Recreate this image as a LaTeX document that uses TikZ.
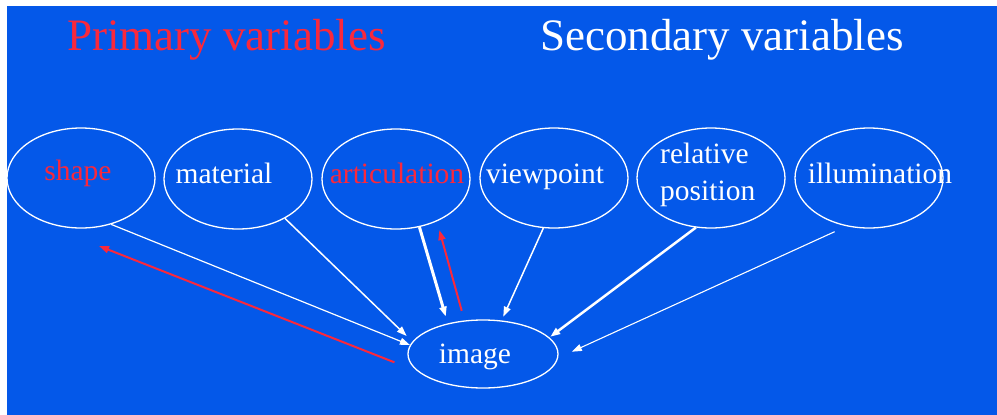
\documentclass[tikz,border=0pt]{standalone}
\usepackage{fontspec}
\setmainfont{Liberation Serif}
\usetikzlibrary{shapes.geometric,arrows.meta}
\definecolor{bgblue}{RGB}{4,88,233}
\definecolor{hot}{RGB}{250,40,60}
\begin{document}
\begin{tikzpicture}[x=1pt,y=-1pt,
  var/.style={ellipse,draw=white,line width=1.3pt,minimum width=148pt,minimum height=100pt,inner sep=0pt},
  lbl/.style={text=white,inner sep=0pt,anchor=base,font=\fontsize{29.5}{37}\selectfont},
  title/.style={inner sep=0pt,anchor=base west,font=\fontsize{45}{50}\selectfont},
  tip/.style={-{Triangle[length=10pt,width=7pt]}},
  wire/.style={tip,draw=white},
  back/.style={tip,draw=hot,line width=2pt}]
\useasboundingbox (0,0) rectangle (997,415);
\fill[white] (0,0) rectangle (997,415);
\fill[bgblue] (7,6) rectangle (997,415);

% headings
\node[title,text=hot] (hPrim) at (67,50) {Primary variables};
\node[title,text=white] (hSec) at (540,50) {Secondary variables};

% variables
\node[var] (vShape) at (81,178) {};
\node[var] (vMat)   at (238,179) {};
\node[var] (vArt)   at (396,179) {};
\node[var] (vView)  at (554,178) {};
\node[var] (vRel)   at (711,178) {};
\node[var] (vIll)   at (869,178) {};
\node[var,minimum width=150pt,minimum height=68pt] (vImg) at (483,354) {};

\node[lbl,text=hot] (tShape) at (78,180) {shape};
\node[lbl] (tMat) at (224,183) {material};
\node[lbl,text=hot] (tArt) at (397,183) {articulation};
\node[lbl] (tView) at (545,183) {viewpoint};
% the base anchor of a two-line node sits on its last line
\node[lbl,anchor=base west,align=left] (tRel) at (660,200) {relative\\position};
\node[lbl] (tIll) at (880,183) {illumination};
\node[lbl] (tImg) at (475,363) {image};

% free end of the feedback arrow to shape
\coordinate (retShape) at ([shift={(18,68)}]vShape.center);

% forward arrows
\draw[wire,line width=1.2pt] (vShape.-57) -- (vImg.173);
\draw[wire,line width=1.5pt,shorten >=8pt] (vMat.-40) -- (vImg.170);
\draw[wire,line width=3pt,shorten >=7pt] (vArt.-64) -- (vImg.139);
\draw[wire,line width=1.5pt,shorten >=4pt] (vView.-102) -- (vImg.61);
\draw[wire,line width=2.5pt,shorten >=1pt] (vRel.-107) -- (vImg.14);
\draw[wire,line width=1.1pt,shorten <=13pt,shorten >=15pt] (vIll.-115) -- (vImg.-3);

% feedback arrows
\draw[back,shorten <=25pt] (vImg.195) -- (retShape);
\draw[back,shorten <=10pt,shorten >=9pt] (vImg.119) -- (vArt.-46);
\end{tikzpicture}
\end{document}
